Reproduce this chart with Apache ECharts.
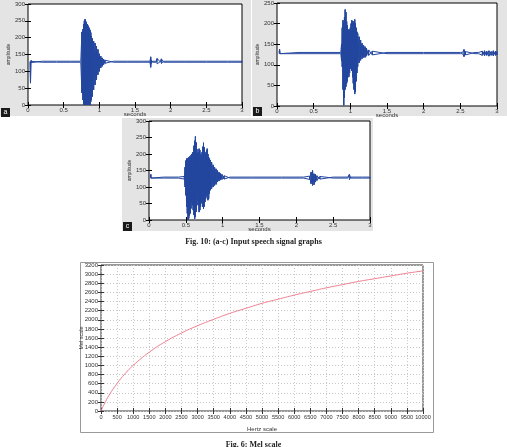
<!DOCTYPE html>
<html>
<head>
<meta charset="utf-8">
<script src="https://cdn.jsdelivr.net/npm/echarts@6/dist/echarts.min.js"></script>
<style>
  html, body { margin: 0; padding: 0; background: #fff; }
  #chart { width: 507px; height: 447px; }
</style>
</head>
<body>
<div id="chart"></div>
<script>
// signal envelopes (seconds, upper amplitude, lower amplitude)
const tA = [0.03, 0.035, 0.045, 0.2, 0.4, 0.6, 0.74, 0.756, 0.77, 0.78, 0.79, 0.80, 0.81, 0.82, 0.83, 0.84, 0.85, 0.86, 0.87, 0.88, 0.89, 0.90, 0.92, 0.94, 0.96, 0.98, 1.00, 1.02, 1.04, 1.06, 1.08, 1.2, 1.4, 1.6, 1.71, 1.72, 1.73, 1.75, 1.80, 1.81, 1.86, 1.87, 1.9, 2.2, 2.5, 2.8, 3.0]
const hiA = [130, 130, 133, 130, 130, 130, 130, 217, 225, 240, 250, 255, 248, 245, 240, 236, 232, 228, 223, 215, 205, 198, 190, 184, 175, 165, 152, 145, 140, 136, 133, 130, 130, 130, 130, 143, 133, 130, 130, 138, 130, 137, 130, 130, 130, 130, 130]
const loA = [127, 65, 126, 127, 127, 127, 127, 36, 15, 0, 0, 0, 2, 0, 0, 3, 0, 5, 0, 10, 15, 25, 45, 60, 75, 90, 100, 110, 115, 120, 124, 127, 127, 127, 127, 112, 124, 127, 127, 122, 127, 123, 127, 127, 127, 127, 127]

const tB = [0.03, 0.035, 0.045, 0.3, 0.6, 0.87, 0.88, 0.89, 0.90, 0.91, 0.92, 0.93, 0.94, 0.95, 0.96, 0.97, 0.98, 0.99, 1.00, 1.01, 1.02, 1.03, 1.04, 1.05, 1.06, 1.07, 1.08, 1.09, 1.10, 1.12, 1.14, 1.16, 1.18, 1.20, 1.22, 1.25, 1.3, 1.5, 2.0, 2.5, 2.53, 2.55, 2.57, 2.7, 2.75, 2.8, 2.83, 2.86, 2.89, 2.92, 2.95, 2.98, 3.0]
const hiB = [130, 138, 130, 130, 130, 130, 150, 190, 208, 200, 215, 234, 228, 205, 195, 184, 186, 184, 190, 200, 208, 205, 200, 206, 210, 200, 190, 180, 176, 168, 160, 152, 148, 144, 140, 136, 133, 130, 130, 130, 130, 137, 132, 130, 130, 133, 134, 133, 134, 132, 134, 133, 132]
const loB = [127, 127, 127, 127, 127, 127, 110, 95, 40, 2, 20, 40, 47, 55, 60, 70, 71, 80, 90, 95, 85, 70, 55, 40, 29, 35, 60, 80, 95, 105, 111, 115, 118, 118, 121, 123, 124, 127, 127, 127, 127, 120, 124, 127, 127, 123, 122, 123, 121, 123, 122, 123, 124]

const tC = [0.02, 0.025, 0.03, 0.2, 0.4, 0.48, 0.49, 0.50, 0.51, 0.52, 0.53, 0.54, 0.55, 0.56, 0.57, 0.58, 0.59, 0.60, 0.61, 0.62, 0.63, 0.64, 0.65, 0.66, 0.67, 0.68, 0.69, 0.70, 0.71, 0.72, 0.73, 0.74, 0.75, 0.76, 0.77, 0.78, 0.79, 0.80, 0.81, 0.82, 0.83, 0.85, 0.87, 0.89, 0.91, 0.93, 0.95, 0.97, 0.99, 1.02, 1.1, 1.4, 1.8, 2.1, 2.18, 2.2, 2.22, 2.24, 2.26, 2.28, 2.32, 2.5, 2.7, 2.72, 2.74, 2.9, 3.0]
const hiC = [130, 138, 130, 130, 130, 132, 160, 180, 186, 184, 188, 190, 192, 191, 196, 200, 204, 206, 225, 240, 253, 235, 215, 201, 205, 216, 212, 200, 196, 205, 222, 234, 220, 205, 201, 210, 216, 200, 190, 186, 182, 175, 167, 160, 155, 150, 145, 141, 138, 134, 130, 130, 130, 130, 133, 145, 150, 140, 138, 134, 132, 130, 130, 138, 130, 130, 130]
const loC = [127, 127, 127, 127, 127, 124, 100, 75, 40, 20, 0, 5, 14, 20, 35, 55, 45, 30, 15, 4, 10, 25, 45, 60, 45, 24, 30, 40, 55, 50, 40, 34, 40, 55, 65, 75, 70, 60, 65, 80, 90, 95, 100, 105, 108, 115, 118, 121, 123, 124, 127, 127, 127, 127, 123, 110, 105, 107, 115, 120, 124, 127, 127, 122, 127, 127, 127]

// mel scale curve
const hertz = [0, 100, 250, 500, 750, 1000, 1500, 2000, 2500, 3000, 3500, 4000, 4500, 5000, 5500, 6000, 6500, 7000, 7500, 8000, 8500, 9000, 9500, 10000]
const mel = [0, 150, 345, 605, 820, 1000, 1290, 1520, 1710, 1870, 2010, 2140, 2250, 2360, 2450, 2540, 2620, 2700, 2770, 2840, 2900, 2960, 3020, 3070]

const blue = '#24479f'
const plain = (v) => String(v)
const tickFont = { fontSize: 6, color: '#333', fontFamily: 'Liberation Sans', formatter: plain, showMaxLabel: true, showMinLabel: true, hideOverlap: false }

// zigzag between upper and lower envelope; flipped order crosses the first pass
function zig(t, hi, lo, flip) {
  const out = []
  for (let i = 0; i < t.length; i++) {
    if (flip) {
      out.push([t[i], lo[i]])
      out.push([t[i], hi[i]])
    } else {
      out.push([t[i], hi[i]])
      out.push([t[i], lo[i]])
    }
  }
  return out
}

function tick(color) {
  return { inside: true, length: 3, lineStyle: { color: color } }
}

// x/y axes for one matlab panel: labelled bottom/left, mirrored ticks top/right
function panelAxes(g, yMax) {
  const xs = [
    { gridIndex: g, type: 'value', min: 0, max: 3, interval: 0.5, name: 'seconds', nameLocation: 'middle', nameGap: 6, nameMoveOverlap: false,
      nameTextStyle: { fontSize: 6, color: '#333' },
      axisLine: { show: false }, axisTick: tick('#000'),
      axisLabel: { ...tickFont, margin: 2 }, splitLine: { show: false } },
    { gridIndex: g, type: 'value', position: 'top', min: 0, max: 3, interval: 0.5,
      axisLine: { show: false }, axisTick: tick('#000'),
      axisLabel: { show: false }, splitLine: { show: false } },
  ]
  const ys = [
    { gridIndex: g, type: 'value', min: 0, max: yMax, interval: 50, name: 'amplitude', nameLocation: 'middle', nameGap: 17, nameMoveOverlap: false,
      nameTextStyle: { fontSize: 5, color: '#333' },
      axisLine: { show: false }, axisTick: tick('#000'),
      axisLabel: { ...tickFont, margin: 3 }, splitLine: { show: false } },
    { gridIndex: g, type: 'value', position: 'right', min: 0, max: yMax, interval: 50,
      axisLine: { show: false }, axisTick: tick('#000'),
      axisLabel: { show: false }, splitLine: { show: false } },
  ]
  return { xs, ys }
}

const pA = panelAxes(0, 300)
const pB = panelAxes(1, 250)
const pC = panelAxes(2, 300)

const melGrid = { show: true, lineStyle: { color: '#c8c8c8', type: [1, 2] } }
const melX = [
  { gridIndex: 3, type: 'value', min: 0, max: 10000, interval: 500, name: 'Hertz scale', nameLocation: 'middle', nameGap: 15, nameMoveOverlap: false,
    nameTextStyle: { fontSize: 6, color: '#333' },
    axisLine: { show: false }, axisTick: tick('#333'), axisLabel: { ...tickFont, fontSize: 5.6, margin: 3 },
    splitLine: melGrid },
  { gridIndex: 3, type: 'value', position: 'top', min: 0, max: 10000, interval: 500,
    axisLine: { show: false }, axisTick: tick('#333'), axisLabel: { show: false }, splitLine: { show: false } },
]
const melY = [
  { gridIndex: 3, type: 'value', min: 0, max: 3200, interval: 200, name: 'Mel scale', nameLocation: 'middle', nameGap: 17, nameMoveOverlap: false,
    nameTextStyle: { fontSize: 5.5, color: '#333' },
    axisLine: { show: false }, axisTick: tick('#333'), axisLabel: { ...tickFont, margin: 3 },
    splitLine: melGrid },
  { gridIndex: 3, type: 'value', position: 'right', min: 0, max: 3200, interval: 200,
    axisLine: { show: false }, axisTick: tick('#333'), axisLabel: { show: false }, splitLine: { show: false } },
]

function letterBox(x, y, ch) {
  return [
    { type: 'rect', z: 10, shape: { x: x, y: y, width: 9, height: 9 }, style: { fill: '#1a1a1a' } },
    { type: 'text', z: 11, x: x + 4.5, y: y + 4.5, style: { text: ch, fill: '#fff', font: '7px Liberation Sans', align: 'center', verticalAlign: 'middle' } },
  ]
}

function wave(xi, data) {
  return { type: 'line', xAxisIndex: xi, yAxisIndex: xi, data: data, showSymbol: false, lineStyle: { width: 1, color: blue } }
}

const chart = echarts.init(document.getElementById('chart'))
chart.setOption({
  animation: false,
  title: [
    { text: 'Fig. 10: (a-c) Input speech signal graphs', left: 'center', top: 233,
      textStyle: { fontFamily: 'Liberation Serif', fontWeight: 'bold', fontSize: 8, color: '#222' } },
    { text: 'Fig. 6: Mel scale', left: 'center', top: 436,
      textStyle: { fontFamily: 'Liberation Serif', fontWeight: 'bold', fontSize: 8, color: '#222' } },
  ],
  graphic: [
    { type: 'rect', z: -10, shape: { x: 0, y: 0, width: 251, height: 116 }, style: { fill: '#e4e4e4' } },
    { type: 'rect', z: -10, shape: { x: 252, y: 0, width: 255, height: 116 }, style: { fill: '#e4e4e4' } },
    { type: 'rect', z: -10, shape: { x: 122, y: 118, width: 251, height: 113 }, style: { fill: '#e4e4e4' } },
    { type: 'rect', z: -10, shape: { x: 80.5, y: 262.5, width: 353, height: 170 }, style: { fill: '#fff', stroke: '#999', lineWidth: 1 } },
    ...letterBox(1, 108, 'a'),
    ...letterBox(253, 107, 'b'),
    ...letterBox(123, 222, 'c'),
  ],
  grid: [
    { left: 28, top: 4, width: 214, height: 101, show: true, backgroundColor: '#fff', borderColor: '#000', borderWidth: 1 },
    { left: 277, top: 3, width: 220, height: 103, show: true, backgroundColor: '#fff', borderColor: '#000', borderWidth: 1 },
    { left: 149, top: 121, width: 221, height: 99, show: true, backgroundColor: '#fff', borderColor: '#000', borderWidth: 1 },
    { left: 101, top: 265, width: 322, height: 146, show: true, backgroundColor: '#fff', borderColor: '#333', borderWidth: 1 },
  ],
  xAxis: [...pA.xs, ...pB.xs, ...pC.xs, ...melX],
  yAxis: [...pA.ys, ...pB.ys, ...pC.ys, ...melY],
  series: [
    wave(0, zig(tA, hiA, loA, false)),
    wave(0, zig(tA, hiA, loA, true)),
    wave(2, zig(tB, hiB, loB, false)),
    wave(2, zig(tB, hiB, loB, true)),
    wave(4, zig(tC, hiC, loC, false)),
    wave(4, zig(tC, hiC, loC, true)),
    { type: 'line', xAxisIndex: 6, yAxisIndex: 6, data: hertz.map((h, i) => [h, mel[i]]), smooth: true, showSymbol: false,
      lineStyle: { width: 1, color: '#ee7f90' } },
  ],
})
</script>
</body>
</html>
